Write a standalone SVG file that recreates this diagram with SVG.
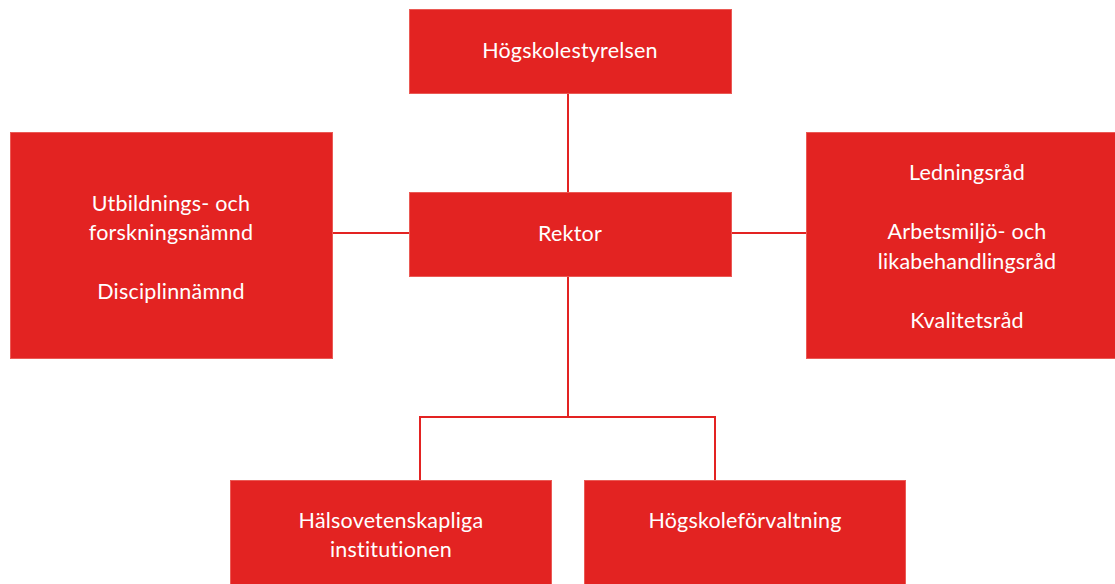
<svg xmlns="http://www.w3.org/2000/svg" width="1115" height="584" viewBox="0 0 1115 584">
<style>
.box{fill:#e32322;stroke:#ea5a55;stroke-width:1}
.t{font-family:Lato,"Noto Sans",sans-serif;font-size:21.5px;fill:#ffffff;text-anchor:middle;letter-spacing:0.2px}
.c{stroke:#e32322;stroke-width:2;fill:none}
</style>
<rect width="1115" height="584" fill="#ffffff"/>
<g id="connectors">
<line class="c" x1="568" y1="93" x2="568" y2="193"/>
<line class="c" x1="332" y1="233" x2="409" y2="233"/>
<line class="c" x1="731" y1="233" x2="806" y2="233"/>
<line class="c" x1="568" y1="276" x2="568" y2="417"/>
<polyline class="c" points="420,480 420,417 715,417 715,480"/>
</g>
<g id="hogskolestyrelsen">
<rect class="box" x="409.5" y="9.5" width="322" height="84"/>
<text class="t" x="570" y="58">Högskolestyrelsen</text>
</g>
<g id="rektor">
<rect class="box" x="409.5" y="192.5" width="322" height="84"/>
<text class="t" x="570" y="241">Rektor</text>
</g>
<g id="namnder">
<rect class="box" x="10.5" y="132.5" width="322" height="226"/>
<text class="t" x="171" y="211">Utbildnings- och</text>
<text class="t" x="171" y="240">forskningsnämnd</text>
<text class="t" x="171" y="299">Disciplinnämnd</text>
</g>
<g id="rad">
<rect class="box" x="806.5" y="132.5" width="320" height="226"/>
<text class="t" x="967" y="180">Ledningsråd</text>
<text class="t" x="967" y="239">Arbetsmiljö- och</text>
<text class="t" x="967" y="269">likabehandlingsråd</text>
<text class="t" x="967" y="328">Kvalitetsråd</text>
</g>
<g id="halsovetenskapliga">
<rect class="box" x="230.5" y="480.5" width="321" height="120"/>
<text class="t" x="391" y="528">Hälsovetenskapliga</text>
<text class="t" x="391" y="557">institutionen</text>
</g>
<g id="hogskoleforvaltning">
<rect class="box" x="584.5" y="480.5" width="321" height="120"/>
<text class="t" x="745" y="528">Högskoleförvaltning</text>
</g>
</svg>
